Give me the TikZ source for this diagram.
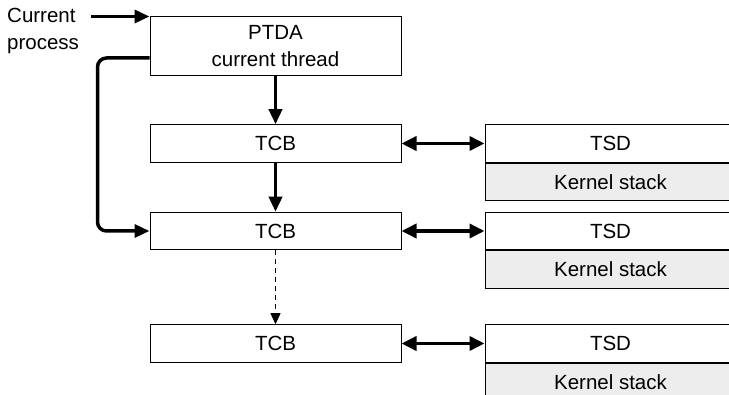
\documentclass[tikz,border=0pt]{standalone}
\usepackage{fontspec}
\setmainfont{Liberation Sans}
\usepackage{tikz}
\usetikzlibrary{positioning, arrows.meta}

\begin{document}
\begin{tikzpicture}[
    x=1pt, y=-1pt,
    font=\fontsize{20.5}{27}\selectfont,
    box/.style={draw, line width=1pt, inner sep=0pt, minimum width=251pt, minimum height=37.5pt, align=center},
    ksbox/.style={box, fill=gray!14},
    thickarrow/.style={line width=3.5pt, -{Triangle[length=15pt, width=13pt]}},
    linkarrow/.style={line width=3.5pt, {Triangle[length=15pt, width=14pt]}-{Triangle[length=15pt, width=14pt]}},
    nextarrow/.style={line width=0.8pt, dash pattern=on 5pt off 4pt, -{Triangle[length=11pt, width=10pt]}},
]

% Frame of the picture
\useasboundingbox (0,0) rectangle (729,395);
\clip (0,0) rectangle (729,395);

% Process and its thread area
\node[anchor=north west, align=left, inner sep=0pt] (cur) at (7,8) {Current\\process};
\node[box, minimum height=59pt] (ptda) at (275.5,46.5) {PTDA\\current thread};

% Thread rows
\foreach \i/\y in {1/143.5, 2/231, 3/343.5} {
    \node[box] (tcb\i) at (275.5,\y) {TCB};
    \node[box] (tsd\i) at (610.5,\y) {TSD};
    \node[ksbox, below=0pt of tsd\i] (ks\i) {Kernel stack};
    \draw[linkarrow] (tcb\i.east) -- (tsd\i.west);
}

% Arrows
\draw[thickarrow] ([xshift=12pt]cur.east |- ptda.north west) -- (ptda.north west);
\draw[thickarrow] (ptda.south) -- (tcb1.north);
\draw[thickarrow] (tcb1.south) -- (tcb2.north);
\draw[thickarrow, rounded corners=9pt] ([yshift=-11.5pt]ptda.west) -- ++(-52,0) |- (tcb2.west);
\draw[nextarrow] (tcb2.south) -- (tcb3.north);

\end{tikzpicture}
\end{document}
